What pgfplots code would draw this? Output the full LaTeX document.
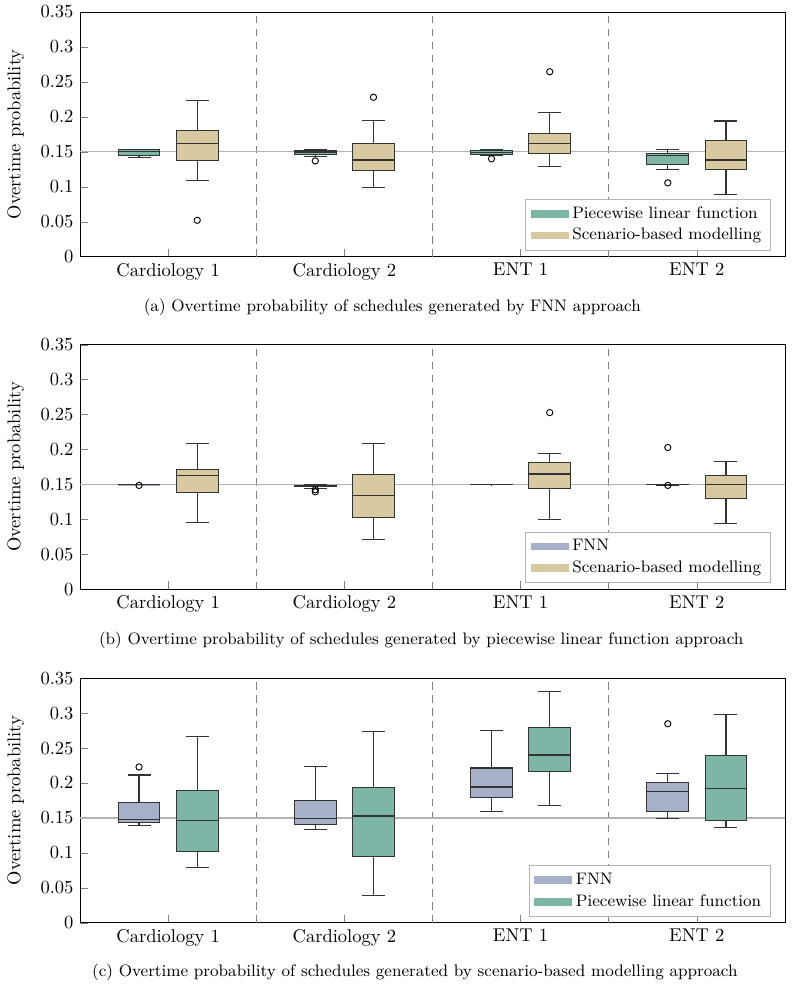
\documentclass[border=0pt]{standalone}
\usepackage{pgfplots}
\pgfplotsset{compat=1.18}
\usepgfplotslibrary{statistics}

\definecolor{cGreen}{HTML}{7DB5A6}
\definecolor{cTan}{HTML}{D9C9A1}
\definecolor{cBlue}{HTML}{A7B0C9}

\pgfplotsset{
  ovt/.style={
    scale only axis, width=381pt, height=132.2pt,
    anchor=south west,
    xmin=-0.5, xmax=3.5, ymin=0, ymax=0.35,
    xtick={0,1,2,3},
    xticklabels={Cardiology 1, Cardiology 2, ENT 1, ENT 2},
    ytick={0,0.05,0.1,0.15,0.2,0.25,0.3,0.35},
    yticklabel style={/pgf/number format/fixed,/pgf/number format/precision=2},
    tick pos=left,
    ylabel={Overtime probability},
    ylabel shift=2pt,
    boxplot/draw direction=y,
    boxplot/box extend=0.237,
    boxplot/whisker extend=0.13,
    boxplot/every median/.style={line width=0.75pt},
    legend style={at={(0.98,0.025)}, anchor=south east, draw=black!30,
      font=\small, cells={anchor=west}},
    title style={font=\small, anchor=center},
  },
  bp/.style n args={6}{forget plot, solid,
    boxplot prepared={draw position=#1, lower whisker=#2,
      lower quartile=#3, median=#4, upper quartile=#5, upper whisker=#6}},
  bx/.style={draw=black!80, fill=#1, line width=0.6pt,
    mark=o, mark size=1.7pt, mark options={draw=black, fill=none, line width=0.5pt}},
  sep/.style={forget plot, gray, dash pattern=on 4pt off 3pt, line width=0.5pt},
  ref/.style={forget plot, black!30, line width=0.7pt},
  leg/.style={legend image code/.code={\fill[#1] (0pt,-1.8pt) rectangle (20pt,1.8pt);}},
}

\begin{document}
\begin{tikzpicture}
\path[use as bounding box] (-43.24pt,-395.8pt) rectangle (384.3pt,138.7pt);

% (a) schedules from the FNN approach
\begin{axis}[ovt, at={(0,0)},
  title={(a) Overtime probability of schedules generated by FNN approach},
  title style={at={(0.443,0)}, yshift=-33.2pt}]
\addplot[sep] coordinates {(0.5,0) (0.5,0.35)};
\addplot[sep] coordinates {(1.5,0) (1.5,0.35)};
\addplot[sep] coordinates {(2.5,0) (2.5,0.35)};
\addplot[ref] coordinates {(-0.5,0.15) (3.5,0.15)};
\addlegendimage{leg=cGreen}\addlegendentry{Piecewise linear function}
\addlegendimage{leg=cTan}\addlegendentry{Scenario-based modelling}
% Piecewise linear function
\addplot[bx=cGreen, bp={-0.165}{0.1424}{0.1453}{0.1505}{0.1529}{0.1532}] coordinates {};
\addplot[bx=cGreen, bp={0.835}{0.1438}{0.1462}{0.1495}{0.1520}{0.1535}] table[row sep=\\,y index=0]{data\\ 0.137\\};
\addplot[bx=cGreen, bp={1.835}{0.1453}{0.1465}{0.1490}{0.1515}{0.1529}] table[row sep=\\,y index=0]{data\\ 0.140\\};
\addplot[bx=cGreen, bp={2.835}{0.1247}{0.1324}{0.1450}{0.1476}{0.1533}] table[row sep=\\,y index=0]{data\\ 0.1056\\};
% Scenario-based modelling
\addplot[bx=cTan, bp={0.165}{0.109}{0.1376}{0.1615}{0.181}{0.224}] table[row sep=\\,y index=0]{data\\ 0.052\\};
\addplot[bx=cTan, bp={1.165}{0.0994}{0.123}{0.138}{0.1615}{0.195}] table[row sep=\\,y index=0]{data\\ 0.228\\};
\addplot[bx=cTan, bp={2.165}{0.1295}{0.148}{0.1615}{0.1762}{0.206}] table[row sep=\\,y index=0]{data\\ 0.2646\\};
\addplot[bx=cTan, bp={3.165}{0.0884}{0.1247}{0.138}{0.1658}{0.194}] coordinates {};
\end{axis}

% (b) schedules from the piecewise linear function approach
\begin{axis}[ovt, at={(0,-179.8pt)},
  title={(b) Overtime probability of schedules generated by piecewise linear function approach},
  title style={at={(0.484,0)}, yshift=-33.4pt}]
\addplot[sep] coordinates {(0.5,0) (0.5,0.35)};
\addplot[sep] coordinates {(1.5,0) (1.5,0.35)};
\addplot[sep] coordinates {(2.5,0) (2.5,0.35)};
\addplot[ref] coordinates {(-0.5,0.15) (3.5,0.15)};
\addlegendimage{leg=cBlue}\addlegendentry{FNN}
\addlegendimage{leg=cTan}\addlegendentry{Scenario-based modelling}
% FNN
\addplot[bx=cBlue, bp={-0.165}{0.1492}{0.1494}{0.1497}{0.1500}{0.1503}] table[row sep=\\,y index=0]{data\\ 0.1487\\};
\addplot[bx=cBlue, bp={0.835}{0.1443}{0.1470}{0.1480}{0.1490}{0.1495}] table[row sep=\\,y index=0]{data\\ 0.1425\\ 0.1395\\};
\addplot[bx=cBlue, bp={1.835}{0.1495}{0.1498}{0.1500}{0.1502}{0.1505}] coordinates {};
\addplot[bx=cBlue, bp={2.835}{0.1493}{0.1497}{0.1500}{0.1502}{0.1505}] table[row sep=\\,y index=0]{data\\ 0.1487\\ 0.2029\\};
% Scenario-based modelling
\addplot[bx=cTan, bp={0.165}{0.0953}{0.1381}{0.1629}{0.1714}{0.209}] coordinates {};
\addplot[bx=cTan, bp={1.165}{0.0714}{0.1024}{0.1343}{0.1643}{0.209}] coordinates {};
\addplot[bx=cTan, bp={2.165}{0.100}{0.1438}{0.1652}{0.181}{0.1943}] table[row sep=\\,y index=0]{data\\ 0.2529\\};
\addplot[bx=cTan, bp={3.165}{0.0945}{0.1295}{0.150}{0.1633}{0.1824}] coordinates {};
\end{axis}

% (c) schedules from the scenario-based modelling approach
\begin{axis}[ovt, at={(0,-360.0pt)},
  title={(c) Overtime probability of schedules generated by scenario-based modelling approach},
  title style={at={(0.475,0)}, yshift=-32.7pt}]
\addplot[sep] coordinates {(0.5,0) (0.5,0.35)};
\addplot[sep] coordinates {(1.5,0) (1.5,0.35)};
\addplot[sep] coordinates {(2.5,0) (2.5,0.35)};
\addplot[ref] coordinates {(-0.5,0.15) (3.5,0.15)};
\addlegendimage{leg=cBlue}\addlegendentry{FNN}
\addlegendimage{leg=cGreen}\addlegendentry{Piecewise linear function}
% FNN
\addplot[bx=cBlue, bp={-0.165}{0.1386}{0.1438}{0.1481}{0.1719}{0.2114}] table[row sep=\\,y index=0]{data\\ 0.2229\\};
\addplot[bx=cBlue, bp={0.835}{0.1338}{0.141}{0.149}{0.1748}{0.2233}] coordinates {};
\addplot[bx=cBlue, bp={1.835}{0.1595}{0.179}{0.1943}{0.2214}{0.2757}] coordinates {};
\addplot[bx=cBlue, bp={2.835}{0.1486}{0.1586}{0.1876}{0.2005}{0.2133}] table[row sep=\\,y index=0]{data\\ 0.2848\\};
% Piecewise linear function
\addplot[bx=cGreen, bp={0.165}{0.079}{0.1024}{0.1462}{0.189}{0.2662}] coordinates {};
\addplot[bx=cGreen, bp={1.165}{0.0395}{0.0952}{0.1529}{0.1933}{0.2738}] coordinates {};
\addplot[bx=cGreen, bp={2.165}{0.1681}{0.2162}{0.240}{0.2795}{0.3314}] coordinates {};
\addplot[bx=cGreen, bp={3.165}{0.1367}{0.1462}{0.1924}{0.2395}{0.2981}] coordinates {};
\end{axis}
\end{tikzpicture}
\end{document}
